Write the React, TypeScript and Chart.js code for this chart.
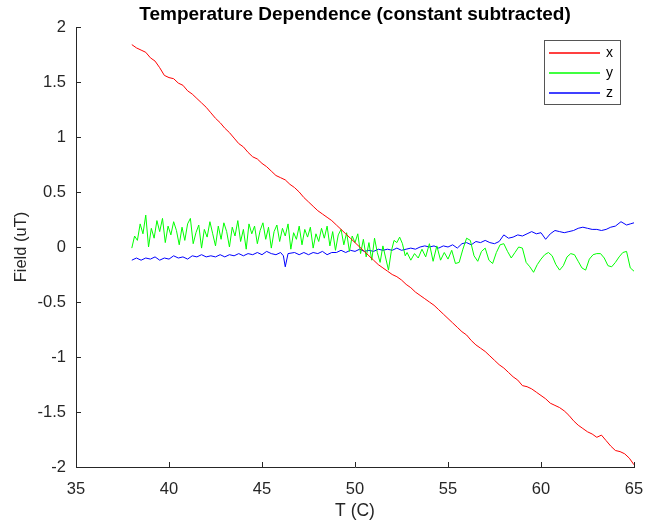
import { useEffect, useRef } from "react";
import { Chart, registerables } from "chart.js";
Chart.register(...registerables);

const chartTitle = "Temperature Dependence (constant subtracted)";
const xAxisTitle = "T (C)";
const yAxisTitle = "Field (uT)";
const xTickValues = [35, 40, 45, 50, 55, 60, 65];
const yTickValues = [-2, -1.5, -1, -0.5, 0, 0.5, 1, 1.5, 2];
const seriesNames = ["x", "y", "z"];
const seriesColors = ["#ff0000", "#00ff00", "#0000ff"];

const xSeries: number[][] = [
  [38, 1.84], [38.25, 1.81], [38.5, 1.79], [38.75, 1.77], [39, 1.72], [39.25, 1.69], [39.5, 1.63], [39.75, 1.56],
  [40, 1.54], [40.25, 1.53], [40.5, 1.49], [40.75, 1.47], [41, 1.42], [41.25, 1.39], [41.5, 1.35], [41.75, 1.31],
  [42, 1.27], [42.25, 1.22], [42.5, 1.17], [42.75, 1.13], [43, 1.08], [43.25, 1.04], [43.5, 0.99], [43.75, 0.94],
  [44, 0.91], [44.25, 0.86], [44.5, 0.82], [44.75, 0.8], [45, 0.76], [45.25, 0.73], [45.5, 0.69], [45.75, 0.65],
  [46, 0.63], [46.25, 0.61], [46.5, 0.57], [46.75, 0.54], [47, 0.5], [47.25, 0.45], [47.5, 0.41], [47.75, 0.37],
  [48, 0.33], [48.25, 0.3], [48.5, 0.27], [48.75, 0.24], [49, 0.2], [49.25, 0.16], [49.5, 0.12], [49.75, 0.08],
  [50, 0.04], [50.25, 0.0], [50.5, -0.04], [50.75, -0.08], [51, -0.12], [51.25, -0.16], [51.5, -0.19], [51.75, -0.22],
  [52, -0.25], [52.25, -0.27], [52.5, -0.3], [52.75, -0.34], [53, -0.37], [53.25, -0.41], [53.5, -0.44], [53.75, -0.47],
  [54, -0.5], [54.25, -0.53], [54.5, -0.57], [54.75, -0.61], [55, -0.65], [55.25, -0.69], [55.5, -0.73], [55.75, -0.77],
  [56, -0.8], [56.25, -0.85], [56.5, -0.89], [56.75, -0.92], [57, -0.95], [57.25, -0.99], [57.5, -1.03], [57.75, -1.07],
  [58, -1.1], [58.25, -1.14], [58.5, -1.18], [58.75, -1.21], [59, -1.26], [59.25, -1.27], [59.5, -1.29], [59.75, -1.32],
  [60, -1.35], [60.25, -1.38], [60.5, -1.42], [60.75, -1.44], [61, -1.46], [61.25, -1.49], [61.5, -1.53], [61.75, -1.58],
  [62, -1.62], [62.25, -1.65], [62.5, -1.68], [62.75, -1.7], [63, -1.73], [63.25, -1.71], [63.5, -1.76], [63.75, -1.81],
  [64, -1.85], [64.25, -1.86], [64.5, -1.88], [64.75, -1.92], [65, -1.98],
];

const ySeries: number[][] = [
  [38, -0.01], [38.15, 0.1], [38.3, 0.06], [38.45, 0.21], [38.6, 0.12], [38.75, 0.29], [38.9, 0.0], [39.05, 0.17],
  [39.2, 0.08], [39.35, 0.24], [39.5, 0.14], [39.65, 0.26], [39.8, 0.04], [39.95, 0.19], [40.1, 0.11], [40.25, 0.23],
  [40.4, 0.15], [40.55, 0.02], [40.7, 0.18], [40.85, 0.06], [41, 0.21], [41.15, 0.26], [41.3, 0.03], [41.45, 0.13],
  [41.6, 0.2], [41.75, -0.01], [41.9, 0.16], [42.05, 0.09], [42.2, 0.23], [42.35, 0.12], [42.5, 0.01], [42.65, 0.19],
  [42.8, 0.07], [42.95, 0.22], [43.1, 0.14], [43.25, 0.0], [43.4, 0.18], [43.55, 0.1], [43.7, 0.24], [43.85, 0.05],
  [44, 0.16], [44.15, -0.02], [44.3, 0.21], [44.45, 0.12], [44.6, 0.19], [44.75, 0.03], [44.9, 0.15], [45.05, 0.22],
  [45.2, 0.07], [45.35, 0.18], [45.5, -0.01], [45.65, 0.14], [45.8, 0.2], [45.95, 0.05], [46.1, 0.17], [46.25, 0.1],
  [46.4, 0.21], [46.55, -0.02], [46.7, 0.13], [46.85, 0.07], [47, 0.19], [47.15, 0.02], [47.3, 0.16], [47.45, 0.09],
  [47.6, 0.18], [47.75, -0.01], [47.9, 0.12], [48.05, 0.05], [48.2, 0.17], [48.35, 0.08], [48.5, 0.19], [48.65, 0.01],
  [48.8, 0.14], [48.95, -0.03], [49.1, 0.11], [49.25, 0.16], [49.4, 0.02], [49.55, 0.13], [49.7, -0.04], [49.85, 0.1],
  [50, 0.04], [50.15, 0.12], [50.3, -0.06], [50.45, 0.07], [50.6, -0.09], [50.75, 0.04], [50.9, -0.12], [51.05, 0.08],
  [51.2, -0.05], [51.35, -0.14], [51.5, 0.01], [51.65, -0.1], [51.8, -0.21], [51.95, -0.04], [52.1, 0.06], [52.25, 0.04],
  [52.4, 0.09], [52.55, 0.03], [52.7, -0.08], [52.8, -0.05], [53, -0.12], [53.2, -0.06], [53.4, -0.1], [53.6, -0.02],
  [53.8, -0.09], [54, 0.03], [54.2, -0.13], [54.4, 0.01], [54.6, -0.12], [54.8, -0.05], [55, -0.11], [55.2, -0.03],
  [55.4, -0.15], [55.6, -0.14], [55.8, -0.02], [56, 0.08], [56.2, 0.06], [56.4, -0.08], [56.6, -0.13], [56.8, -0.04],
  [57, -0.01], [57.2, -0.12], [57.4, -0.15], [57.6, -0.05], [57.8, 0.02], [58, 0.03], [58.2, -0.04], [58.4, -0.1],
  [58.6, -0.05], [58.8, 0.0], [59, -0.01], [59.2, -0.14], [59.4, -0.18], [59.6, -0.23], [59.8, -0.16], [60, -0.11],
  [60.2, -0.07], [60.4, -0.05], [60.6, -0.08], [60.8, -0.16], [61, -0.21], [61.2, -0.17], [61.4, -0.09], [61.6, -0.06],
  [61.8, -0.07], [62, -0.13], [62.2, -0.19], [62.4, -0.21], [62.6, -0.11], [62.8, -0.07], [63, -0.06], [63.2, -0.06],
  [63.4, -0.1], [63.6, -0.17], [63.8, -0.18], [64, -0.14], [64.2, -0.09], [64.4, -0.05], [64.6, -0.04], [64.8, -0.19],
  [65, -0.22],
];

const zSeries: number[][] = [
  [38, -0.12], [38.25, -0.1], [38.5, -0.12], [38.75, -0.1], [39, -0.11], [39.25, -0.09], [39.5, -0.12], [39.75, -0.1],
  [40, -0.11], [40.25, -0.08], [40.5, -0.1], [40.75, -0.09], [41, -0.11], [41.25, -0.08], [41.5, -0.09], [41.75, -0.07],
  [42, -0.09], [42.25, -0.08], [42.5, -0.09], [42.75, -0.07], [43, -0.09], [43.25, -0.07], [43.5, -0.08], [43.75, -0.06],
  [44, -0.08], [44.25, -0.06], [44.5, -0.07], [44.75, -0.05], [45, -0.07], [45.25, -0.04], [45.5, -0.06], [45.75, -0.07],
  [46, -0.05], [46.15, -0.08], [46.25, -0.18], [46.4, -0.06], [46.75, -0.05], [47, -0.07], [47.25, -0.05], [47.5, -0.07],
  [47.75, -0.05], [48, -0.06], [48.25, -0.04], [48.5, -0.07], [48.75, -0.05], [49, -0.05], [49.25, -0.03], [49.5, -0.05],
  [49.75, -0.03], [50, -0.04], [50.25, -0.02], [50.5, -0.04], [50.75, -0.03], [51, -0.04], [51.25, -0.02], [51.5, -0.03],
  [51.75, -0.02], [52, -0.03], [52.25, -0.01], [52.5, -0.03], [52.75, -0.02], [53, -0.01], [53.25, -0.02], [53.5, 0.0],
  [53.75, 0.01], [54, 0.0], [54.25, 0.01], [54.5, -0.01], [54.75, 0.01], [55, 0.0], [55.25, 0.02], [55.5, -0.01],
  [55.75, 0.03], [56, 0.04], [56.25, 0.02], [56.5, 0.05], [56.75, 0.04], [57, 0.06], [57.25, 0.04], [57.5, 0.03],
  [57.75, 0.05], [58, 0.11], [58.25, 0.08], [58.5, 0.09], [58.75, 0.11], [59, 0.1], [59.25, 0.12], [59.5, 0.14],
  [59.75, 0.12], [60, 0.13], [60.25, 0.07], [60.5, 0.12], [60.75, 0.15], [61, 0.14], [61.25, 0.13], [61.5, 0.14],
  [61.75, 0.15], [62, 0.17], [62.25, 0.18], [62.5, 0.17], [62.75, 0.16], [63, 0.16], [63.25, 0.15], [63.5, 0.16],
  [63.75, 0.18], [64, 0.19], [64.3, 0.23], [64.6, 0.2], [64.8, 0.21], [65, 0.22],
];

const FONT = '"Liberation Sans", Arial, Helvetica, sans-serif';
const AXIS_COLOR = "#262626";

const inwardTicks = {
  id: "inwardTicks",
  afterDraw(chart: any) {
    const { ctx, chartArea } = chart;
    const xs = chart.scales.x;
    const ys = chart.scales.y;
    ctx.save();
    ctx.strokeStyle = AXIS_COLOR;
    ctx.lineWidth = 1;
    ctx.beginPath();
    xs.ticks.forEach((t: any) => {
      const px = Math.round(xs.getPixelForValue(t.value)) + 0.5;
      ctx.moveTo(px, chartArea.bottom);
      ctx.lineTo(px, chartArea.bottom - 5);
    });
    ys.ticks.forEach((t: any) => {
      const py = Math.round(ys.getPixelForValue(t.value)) + 0.5;
      ctx.moveTo(chartArea.left, py);
      ctx.lineTo(chartArea.left + 5, py);
    });
    ctx.stroke();
    ctx.restore();
  },
};

const legendBox = {
  id: "legendBox",
  afterDraw(chart: any) {
    const { ctx, chartArea } = chart;
    const w = 76;
    const h = 64;
    const bx = Math.round(chartArea.right - 90);
    const by = Math.round(chartArea.top + 13);
    ctx.save();
    ctx.fillStyle = "#ffffff";
    ctx.fillRect(bx, by, w, h);
    ctx.strokeStyle = "#555555";
    ctx.lineWidth = 1;
    ctx.strokeRect(bx + 0.5, by + 0.5, w, h);
    seriesNames.forEach((name, i) => {
      const ry = Math.round(by + 12.5 + i * 20.3);
      ctx.beginPath();
      ctx.strokeStyle = seriesColors[i];
      ctx.lineWidth = 1.6;
      ctx.moveTo(bx + 5, ry);
      ctx.lineTo(bx + 56, ry);
      ctx.stroke();
      ctx.fillStyle = "#000000";
      ctx.font = `14px ${FONT}`;
      ctx.textBaseline = "middle";
      ctx.textAlign = "left";
      ctx.fillText(name, bx + 62, ry);
    });
    ctx.restore();
  },
};

export default function App() {
  const ref = useRef<HTMLCanvasElement>(null);
  useEffect(() => {
    const toPts = (s: number[][]) => s.map(([x, y]) => ({ x, y }));
    const allSeries = [xSeries, ySeries, zSeries];
    const chart = new Chart(ref.current as HTMLCanvasElement, {
      type: "line",
      data: {
        datasets: allSeries.map((s, i) => ({
          label: seriesNames[i],
          data: toPts(s),
          borderColor: seriesColors[i],
          backgroundColor: seriesColors[i],
          borderWidth: 1,
          pointRadius: 0,
          tension: 0,
          fill: false,
        })),
      },
      options: {
        responsive: false,
        animation: false,
        devicePixelRatio: 1,
        layout: { padding: { left: 0, right: 21, top: 0, bottom: 0 } },
        plugins: {
          legend: { display: false },
          tooltip: { enabled: false },
          title: {
            display: true,
            text: chartTitle,
            fullSize: false,
            color: "#000000",
            font: { family: FONT, size: 19, weight: "bold" },
            padding: { top: 3, bottom: 1.2 },
          },
        },
        scales: {
          x: {
            type: "linear",
            min: 35,
            max: 65,
            afterBuildTicks: (s: any) => {
              s.ticks = xTickValues.map((v) => ({ value: v }));
            },
            afterFit: (s: any) => {
              s.height = 56;
              s.paddingLeft = 0;
              s.paddingRight = 0;
            },
            grid: { display: false },
            border: { display: true, color: AXIS_COLOR, width: 1 },
            ticks: {
              color: AXIS_COLOR,
              padding: 5,
              maxRotation: 0,
              font: { family: FONT, size: 16.5 },
              callback: (v: any) => String(v),
            },
            title: {
              display: true,
              text: xAxisTitle,
              color: AXIS_COLOR,
              font: { family: FONT, size: 17.5 },
              padding: { top: 0, bottom: 1 },
            },
          },
          y: {
            type: "linear",
            min: -2,
            max: 2,
            afterBuildTicks: (s: any) => {
              s.ticks = yTickValues.map((v) => ({ value: v }));
            },
            afterFit: (s: any) => {
              s.width = 76;
              s.paddingTop = 0;
              s.paddingBottom = 0;
            },
            grid: { display: false },
            border: { display: true, color: AXIS_COLOR, width: 1 },
            ticks: {
              color: AXIS_COLOR,
              padding: 2,
              font: { family: FONT, size: 16.5 },
              callback: (v: any) => String(v),
            },
            title: {
              display: true,
              text: yAxisTitle,
              color: AXIS_COLOR,
              font: { family: FONT, size: 16.5 },
              padding: { top: 12, bottom: 0 },
            },
          },
        },
      },
      plugins: [inwardTicks, legendBox],
    } as any);
    return () => chart.destroy();
  }, []);
  return (
    <div style={{ position: "fixed", left: 0, top: 0, width: 655, height: 523, background: "#ffffff" }}>
      <canvas ref={ref} width={655} height={523} style={{ display: "block" }} />
    </div>
  );
}
